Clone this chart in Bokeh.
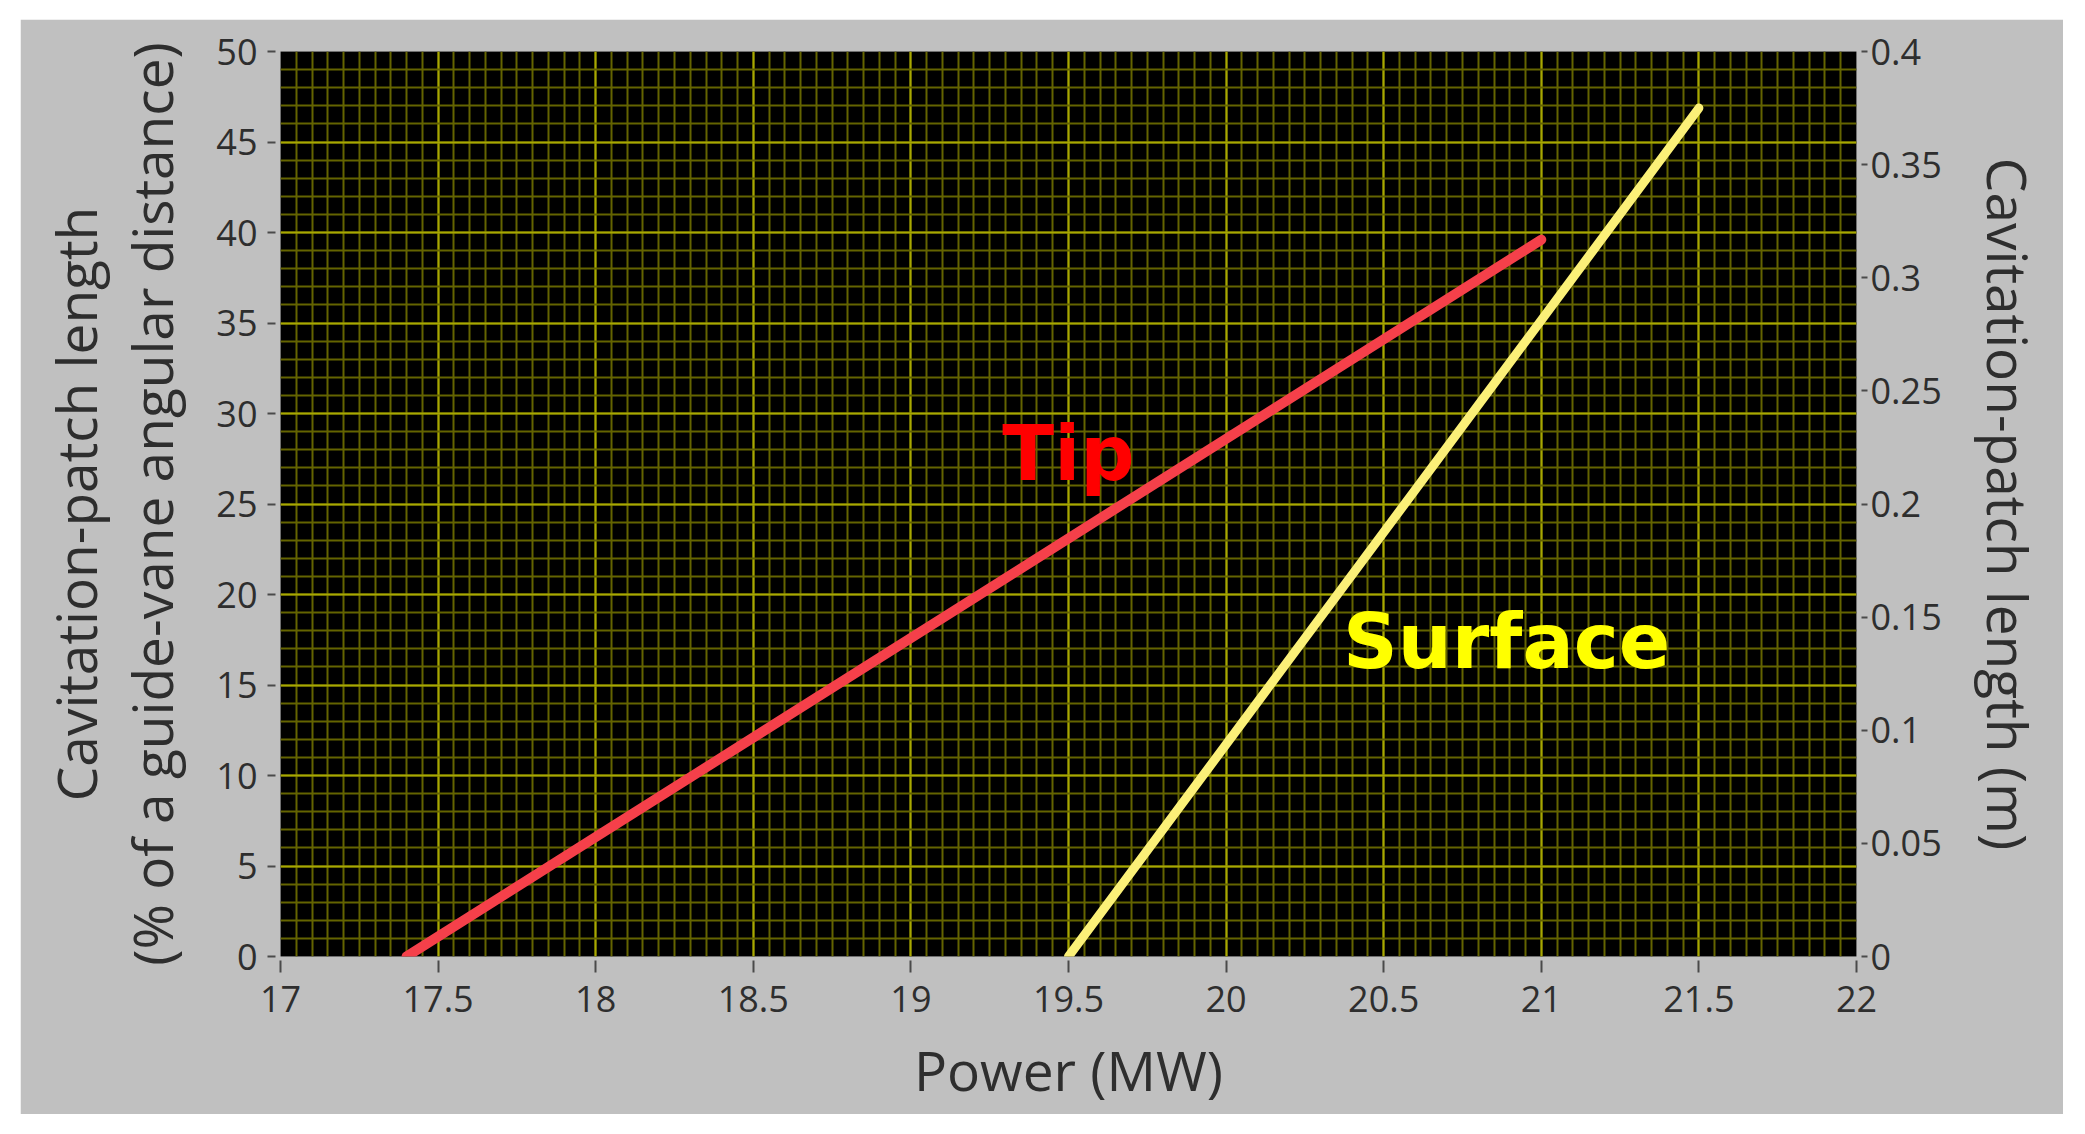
from bokeh.plotting import figure
from bokeh.models import (LinearAxis, Range1d, SingleIntervalTicker, FixedTicker, Label)
from bokeh.embed import file_html
from bokeh.resources import INLINE

# ---------------- data ----------------
tip_power = [17.4, 21.0]            # MW
tip_length_pct = [0.0, 39.6]        # % of guide-vane angular distance
surface_power = [19.5, 21.5]        # MW
surface_length_m = [0.0, 0.375]     # m (right axis)

x_ticks = [17, 17.5, 18, 18.5, 19, 19.5, 20, 20.5, 21, 21.5, 22]
x_tick_labels = ["17", "17.5", "18", "18.5", "19", "19.5", "20", "20.5", "21", "21.5", "22"]
right_ticks = [0, 0.05, 0.1, 0.15, 0.2, 0.25, 0.3, 0.35, 0.4]
right_tick_labels = ["0", "0.05", "0.1", "0.15", "0.2", "0.25", "0.3", "0.35", "0.4"]

# ---------------- styles ----------------
BG = "#c0c0c0"
TXT = "#2e2e2e"
TICK = "#4a4a4a"
FONT = "Open Sans"
TICK_FS = "36px"
LAB_FS = "55px"

p = figure(width=2043, height=1095, x_range=Range1d(17, 22), y_range=Range1d(0, 50),
           output_backend="svg", toolbar_location=None,
           min_border_left=260, min_border_right=207, min_border_top=32, min_border_bottom=158,
           background_fill_color="black", border_fill_color=BG, outline_line_color=None)
p.margin = (19, 0, 0, 20)
p.extra_y_ranges = {"m": Range1d(0, 0.4)}

# tickers / grids
xt = SingleIntervalTicker(interval=0.5, num_minor_ticks=10)
yt = SingleIntervalTicker(interval=5, num_minor_ticks=5)
p.xaxis.ticker = xt
p.yaxis.ticker = yt
p.xgrid.ticker = xt
p.ygrid.ticker = yt
for g in (p.xgrid[0], p.ygrid[0]):
    g.grid_line_color = "#a8a800"
    g.grid_line_width = 2
    g.minor_grid_line_color = "#646400"
    g.minor_grid_line_width = 2

def style_axis(ax):
    ax.axis_line_color = None
    ax.major_tick_line_color = TICK
    ax.major_tick_line_width = 2
    ax.minor_tick_in = 0
    ax.minor_tick_out = 0
    ax.major_label_text_font = FONT
    ax.major_label_text_font_size = TICK_FS
    ax.major_label_text_color = TXT
    ax.axis_label_text_font = FONT
    ax.axis_label_text_font_size = LAB_FS
    ax.axis_label_text_font_style = "normal"
    ax.axis_label_text_color = TXT

# bottom axis
xa = p.xaxis[0]
style_axis(xa)
xa.major_tick_in = -4
xa.major_tick_out = 16
xa.major_label_standoff = 13
xa.major_label_overrides = {float(t): l for t, l in zip(x_ticks, x_tick_labels)}
xa.axis_label = "Power (MW)"
xa.axis_label_standoff = 17

# left axis (inner line of label)
ya = p.yaxis[0]
style_axis(ya)
ya.major_tick_in = -5
ya.major_tick_out = 13
ya.major_label_standoff = 10
ya.axis_label = "(% of a guide-vane angular distance)"
ya.axis_label_standoff = 24

# left axis (outer line of label)
ya2 = LinearAxis(ticker=FixedTicker(ticks=[]))
style_axis(ya2)
ya2.major_tick_in = 0
ya2.major_tick_out = 0
ya2.major_label_standoff = 0
ya2.axis_label = "Cavitation-patch length"
ya2.axis_label_standoff = -1
p.add_layout(ya2, "left")

# right axis (m)
ra = LinearAxis(y_range_name="m", ticker=FixedTicker(ticks=right_ticks))
style_axis(ra)
ra.major_tick_in = -5
ra.major_tick_out = 11
ra.major_label_standoff = 3
ra.major_label_overrides = {float(t): l for t, l in zip(right_ticks, right_tick_labels)}
ra.axis_label = "Cavitation-patch length (m)"
ra.axis_label_standoff = 26
p.add_layout(ra, "right")

# series
p.line(tip_power, tip_length_pct, line_color="#f5404a", line_width=10, line_cap="round")
p.line(surface_power, surface_length_m, y_range_name="m", line_color="#fbf078",
       line_width=9, line_cap="round")

# annotations
p.add_layout(Label(x=19.5, y=27.8, text="Tip", text_font="DejaVu Sans", text_font_style="bold",
                   text_font_size="76px", text_color="#ff0000", text_align="center",
                   text_baseline="middle"))
p.add_layout(Label(x=20.89, y=17.4, text="Surface", text_font="DejaVu Sans", text_font_style="bold",
                   text_font_size="76px", text_color="#ffff00", text_align="center",
                   text_baseline="middle"))

open("out.html", "w").write(file_html(p, INLINE))
